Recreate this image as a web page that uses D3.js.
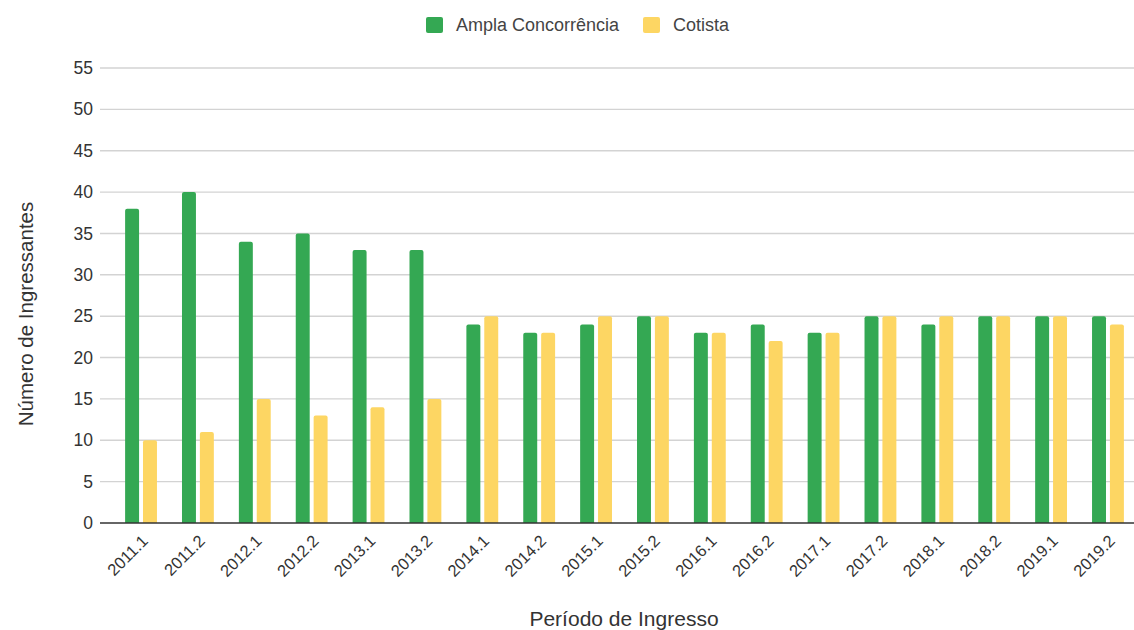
<!DOCTYPE html>
<html>
<head>
<meta charset="utf-8">
<script src="https://cdn.jsdelivr.net/npm/d3@7"></script>
<style>
  body { margin: 0; background: #fff; }
  svg { display: block; font-family: "Liberation Sans", Arial, sans-serif; }
</style>
</head>
<body>
<svg id="chart" width="1134" height="630"></svg>
<script>
// Entrants per admission period, by admission type
const periods = ["2011.1","2011.2","2012.1","2012.2","2013.1","2013.2","2014.1","2014.2","2015.1",
                 "2015.2","2016.1","2016.2","2017.1","2017.2","2018.1","2018.2","2019.1","2019.2"];
const ampla   = [38, 40, 34, 35, 33, 33, 24, 23, 24, 25, 23, 24, 23, 25, 24, 25, 25, 25];
const cotista = [10, 11, 15, 13, 14, 15, 25, 23, 25, 25, 23, 22, 23, 25, 25, 25, 25, 24];
const yTicks  = [0, 5, 10, 15, 20, 25, 30, 35, 40, 45, 50, 55];
const seriesNames = ["Ampla Concorrência", "Cotista"];
const colors = ["#34a853", "#fdd663"];

const rows = periods.map((p, i) => ({ period: p, values: [ampla[i], cotista[i]] }));

const svg = d3.select("#chart");
const gridLeft = 100, gridRight = 1134;
const plotTop = 68, plotBottom = 523;

const x = d3.scaleBand().domain(periods).range([112.6, 1136.4]).paddingInner(0.44).paddingOuter(0.22);
const xSub = d3.scaleBand().domain([0, 1]).range([0, x.bandwidth()]).paddingInner(0.22);
const y = d3.scaleLinear().domain([0, 55]).range([plotBottom, plotTop]);

// gridlines
svg.append("g").selectAll("line").data(yTicks.filter(t => t > 0)).join("line")
  .attr("x1", gridLeft).attr("x2", gridRight)
  .attr("y1", d => y(d)).attr("y2", d => y(d))
  .attr("stroke", "#d3d3d3").attr("stroke-width", 1.4);

// y axis labels
const yAxis = svg.append("g").attr("transform", `translate(${gridLeft - 7},0)`)
  .call(d3.axisLeft(y).tickValues(yTicks).tickSize(0).tickPadding(0));
yAxis.select(".domain").remove();
yAxis.selectAll("text").attr("fill", "#333").attr("font-size", 17.5);

// bars
const groups = svg.append("g").selectAll("g").data(rows).join("g")
  .attr("transform", d => `translate(${x(d.period)},0)`);
groups.selectAll("path").data(d => d.values).join("path")
  .attr("fill", (d, i) => colors[i])
  .attr("d", (d, i) => {
    const x0 = xSub(i), w = xSub.bandwidth(), y0 = y(d), y1 = y(0), r = 2;
    return `M${x0},${y1}V${y0 + r}Q${x0},${y0} ${x0 + r},${y0}H${x0 + w - r}Q${x0 + w},${y0} ${x0 + w},${y0 + r}V${y1}Z`;
  });

// baseline
svg.append("line").attr("x1", gridLeft).attr("x2", gridRight)
  .attr("y1", y(0)).attr("y2", y(0)).attr("stroke", "#333").attr("stroke-width", 1.6);

// x axis labels
const xAxis = svg.append("g").attr("transform", `translate(0,${plotBottom})`)
  .call(d3.axisBottom(x).tickSize(0).tickPadding(0));
xAxis.select(".domain").remove();
xAxis.selectAll("text")
  .attr("fill", "#333").attr("font-size", 16.5)
  .attr("text-anchor", "end").attr("dy", 0)
  .attr("transform", "translate(8,19) rotate(-45)");

// axis titles
svg.append("text").attr("x", 624).attr("y", 626).attr("text-anchor", "middle")
  .attr("fill", "#333").attr("font-size", 21).text("Período de Ingresso");
svg.append("text").attr("transform", "translate(33,314) rotate(-90)").attr("text-anchor", "middle")
  .attr("fill", "#333").attr("font-size", 20.5).text("Número de Ingressantes");

// legend
const legend = svg.append("g");
const legendX = [426, 643];
seriesNames.forEach((name, i) => {
  legend.append("rect").attr("x", legendX[i]).attr("y", 17).attr("width", 17).attr("height", 16)
    .attr("rx", 2).attr("fill", colors[i]);
  legend.append("text").attr("x", legendX[i] + 30).attr("y", 31)
    .attr("fill", "#444").attr("font-size", 18).text(name);
});
</script>
</body>
</html>
